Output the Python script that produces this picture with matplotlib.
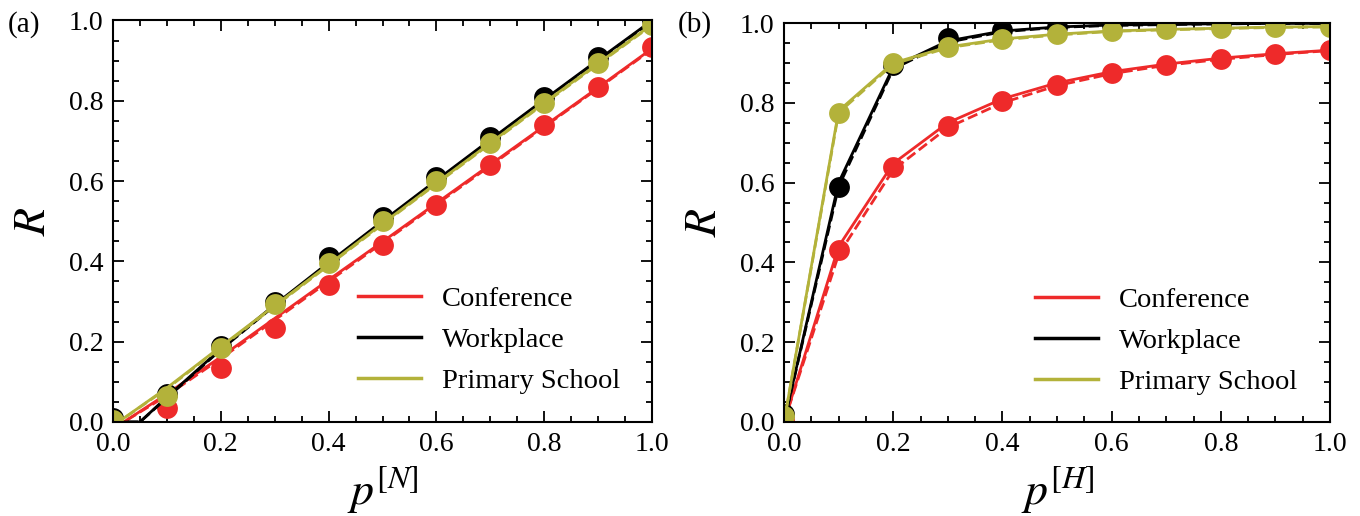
import matplotlib
matplotlib.use("Agg")
import matplotlib.pyplot as plt
from matplotlib.ticker import MultipleLocator
from matplotlib.lines import Line2D

plt.rcParams["font.family"] = ["Liberation Serif", "DejaVu Serif"]
plt.rcParams["mathtext.fontset"] = "stix"

# ---- data ----------------------------------------------------------------
series_names = ["Conference", "Workplace", "Primary School"]
series_colors = ["#ee2a2a", "#000000", "#b3b23a"]

p_sim = [0.0, 0.1, 0.2, 0.3, 0.4, 0.5, 0.6, 0.7, 0.8, 0.9, 1.0]

# (a) R versus p^[N]: simulation points
a_conf_sim = [0.0, 0.035, 0.135, 0.235, 0.34, 0.44, 0.54, 0.64, 0.74, 0.835, 0.935]
a_work_sim = [0.01, 0.07, 0.19, 0.30, 0.41, 0.51, 0.61, 0.71, 0.81, 0.91, 1.0]
a_prim_sim = [0.005, 0.065, 0.185, 0.295, 0.395, 0.50, 0.60, 0.695, 0.795, 0.895, 0.99]

# (a) theory curves (solid) and approximation (dashed)
a_conf_x = [0.0, 0.02, 0.1, 0.2, 0.3, 0.4, 0.5, 0.6, 0.7, 0.8, 0.9, 1.0]
a_conf_th = [0.0, 0.0, 0.07, 0.162, 0.258, 0.354, 0.449, 0.545, 0.641, 0.737, 0.833, 0.93]
a_conf_ap = [0.0, 0.0, 0.066, 0.158, 0.254, 0.350, 0.446, 0.542, 0.638, 0.735, 0.831, 0.928]

a_work_x = [0.0, 0.05, 0.1, 0.2, 0.3, 0.4, 0.5, 0.6, 0.7, 0.8, 0.9, 1.0]
a_work_th = [0.0, 0.0, 0.062, 0.182, 0.292, 0.397, 0.50, 0.602, 0.703, 0.803, 0.902, 1.0]
a_work_ap = [0.0, 0.0, 0.060, 0.180, 0.290, 0.395, 0.498, 0.600, 0.701, 0.801, 0.900, 0.998]

a_prim_x = [0.0, 0.01, 0.1, 0.2, 0.3, 0.4, 0.5, 0.6, 0.7, 0.8, 0.9, 1.0]
a_prim_th = [0.0, 0.0, 0.085, 0.188, 0.29, 0.392, 0.494, 0.595, 0.695, 0.795, 0.893, 0.99]
a_prim_ap = [0.0, 0.0, 0.083, 0.186, 0.288, 0.390, 0.492, 0.593, 0.693, 0.793, 0.891, 0.988]

# (b) R versus p^[H]: simulation points
b_conf_sim = [0.005, 0.43, 0.64, 0.742, 0.805, 0.845, 0.875, 0.895, 0.91, 0.922, 0.932]
b_work_sim = [0.02, 0.59, 0.895, 0.962, 0.982, 0.99, 0.995, 0.997, 0.998, 0.999, 0.999]
b_prim_sim = [0.015, 0.775, 0.90, 0.94, 0.96, 0.972, 0.98, 0.984, 0.987, 0.99, 0.991]

# (b) theory curves (solid) and approximation (dashed)
b_conf_th = [0.0, 0.44, 0.648, 0.75, 0.81, 0.85, 0.878, 0.897, 0.912, 0.923, 0.932]
b_conf_ap = [0.0, 0.42, 0.632, 0.738, 0.80, 0.843, 0.873, 0.894, 0.909, 0.921, 0.931]
b_work_th = [0.0, 0.60, 0.89, 0.955, 0.98, 0.99, 0.995, 0.997, 0.998, 0.999, 0.999]
b_work_ap = [0.0, 0.59, 0.885, 0.952, 0.978, 0.989, 0.994, 0.996, 0.998, 0.999, 0.999]
b_prim_th = [0.0, 0.78, 0.90, 0.94, 0.96, 0.972, 0.98, 0.984, 0.987, 0.99, 0.991]
b_prim_ap = [0.0, 0.775, 0.897, 0.938, 0.958, 0.970, 0.979, 0.983, 0.986, 0.989, 0.990]

tick_vals = [0.0, 0.2, 0.4, 0.6, 0.8, 1.0]
tick_labels = ["0.0", "0.2", "0.4", "0.6", "0.8", "1.0"]

# ---- figure --------------------------------------------------------------
fig = plt.figure(figsize=(13.6, 5.16), dpi=100)
ax_a = fig.add_axes([0.0831, 0.1822, 0.3963, 0.7781])
ax_b = fig.add_axes([0.5765, 0.1822, 0.4015, 0.7732])

ms = 15
lw = 2.0


def style_axes(ax, xlabel):
    ax.set_xlim(0, 1)
    ax.set_ylim(0, 1)
    ax.set_xticks(tick_vals)
    ax.set_xticklabels(tick_labels)
    ax.set_yticks(tick_vals)
    ax.set_yticklabels(tick_labels)
    ax.xaxis.set_minor_locator(MultipleLocator(0.05))
    ax.yaxis.set_minor_locator(MultipleLocator(0.05))
    ax.tick_params(which="both", direction="in", top=True, right=True,
                   labelsize=20, width=1.3, pad=7)
    ax.tick_params(which="major", length=8)
    ax.tick_params(which="minor", length=4)
    for s in ax.spines.values():
        s.set_linewidth(1.5)
    ax.set_xlabel(xlabel, fontsize=33, labelpad=5)
    ax.set_ylabel(r"$R$", fontsize=33, labelpad=10)


def add_legend(ax, x_anchor):
    handles = [Line2D([], [], color=c, lw=2.5) for c in series_colors]
    ax.legend(handles, series_names, loc="upper left",
              bbox_to_anchor=(x_anchor, 0.338), frameon=False,
              fontsize=20.5, handlelength=2.2, handletextpad=0.75,
              labelspacing=0.52, borderpad=0, borderaxespad=0)


# panel (a)
for x, th, ap, sim, c in [
    (a_conf_x, a_conf_th, a_conf_ap, a_conf_sim, series_colors[0]),
    (a_work_x, a_work_th, a_work_ap, a_work_sim, series_colors[1]),
    (a_prim_x, a_prim_th, a_prim_ap, a_prim_sim, series_colors[2]),
]:
    ax_a.plot(p_sim, sim, "o", color=c, ms=ms, mec="none")
    ax_a.plot(x, ap, "--", color=c, lw=lw)
    ax_a.plot(x, th, "-", color=c, lw=lw)

style_axes(ax_a, r"$p^{[N]}$")
add_legend(ax_a, 0.455)

# panel (b)
for th, ap, sim, c in [
    (b_conf_th, b_conf_ap, b_conf_sim, series_colors[0]),
    (b_work_th, b_work_ap, b_work_sim, series_colors[1]),
    (b_prim_th, b_prim_ap, b_prim_sim, series_colors[2]),
]:
    ax_b.plot(p_sim, sim, "o", color=c, ms=ms, mec="none")
    ax_b.plot(p_sim, ap, "--", color=c, lw=lw)
    ax_b.plot(p_sim, th, "-", color=c, lw=lw)

style_axes(ax_b, r"$p^{[H]}$")
add_legend(ax_b, 0.46)

fig.text(0.006, 0.952, "(a)", fontsize=21, va="center", ha="left")
fig.text(0.498, 0.952, "(b)", fontsize=21, va="center", ha="left")

fig.savefig("out.png", dpi=100)
